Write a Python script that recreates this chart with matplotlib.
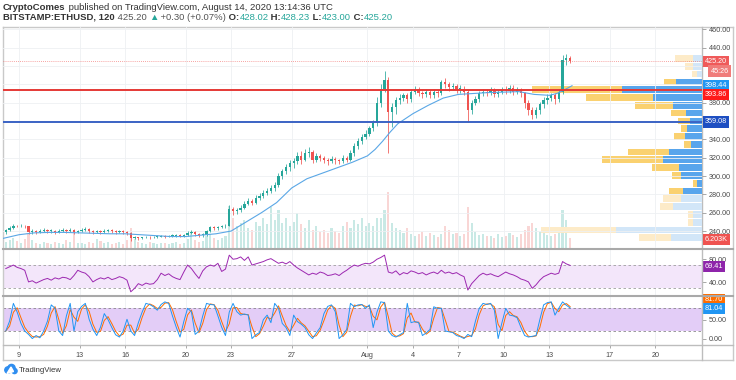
import numpy as np
import pandas as pd
import matplotlib
matplotlib.use("Agg")
import matplotlib.pyplot as plt
import matplotlib.transforms as mtrans
from matplotlib.lines import Line2D
from matplotlib.patches import Circle, Polygon

plt.rcParams['font.family'] = ['Liberation Sans', 'DejaVu Sans']

W, H = 736, 380

# BITSTAMP:ETHUSD, 6h candles; x axis = day of July (Aug 1 = 32)
first_day = 8.0
first_open = 239
closes = [241, 243, 246, 245, 246, 245, 239, 240,
          239, 240, 241, 240, 240, 239, 240, 241,
          240, 241, 239, 240, 241, 242, 240, 239,
          240, 239, 240, 241, 240, 239, 240, 239,
          238, 232, 233, 232, 233, 234, 233, 234,
          234, 235, 234, 235, 235, 236, 235, 236,
          238, 239, 237, 236, 236, 240, 244, 243,
          244, 245, 246, 264, 262, 263, 265, 270,
          273, 271, 276, 278, 282, 284, 287, 290,
          300, 305, 310, 314, 316, 322, 318, 325,
          326, 318, 322, 320, 318, 316, 319, 317,
          316, 320, 318, 325, 333, 338, 343, 346,
          352, 358, 380, 395, 405, 370, 375, 383,
          385, 388, 384, 392, 395, 390, 389, 392,
          388, 392, 390, 402, 400, 397, 398, 395,
          395, 392, 372, 380, 384, 390, 392, 391,
          393, 389, 392, 394, 393, 396, 392, 394,
          390, 380, 372, 366, 372, 378, 383, 385,
          388, 384, 392, 427, 429, 425.2]
highs = [242, 245, 248, 247, 248, 247, 246, 242,
         241, 242, 243, 242, 242, 241, 242, 243,
         242, 243, 242, 241, 243, 244, 243, 241,
         241, 241, 242, 242, 242, 241, 241, 241,
         240, 239, 235, 234, 234, 235, 235, 235,
         236, 236, 236, 236, 237, 237, 237, 237,
         240, 241, 240, 238, 238, 241, 245, 245,
         246, 247, 248, 268, 266, 265, 268, 273,
         276, 275, 279, 281, 285, 287, 290, 293,
         303, 308, 313, 317, 320, 326, 327, 330,
         332, 328, 325, 324, 322, 320, 322, 321,
         319, 323, 322, 328, 336, 341, 346, 350,
         355, 361, 386, 400, 415, 408, 380, 386,
         389, 391, 390, 395, 398, 397, 393, 395,
         394, 395, 394, 405, 407, 403, 401, 400,
         399, 398, 394, 383, 387, 393, 395, 395,
         397, 396, 394, 397, 398, 399, 399, 397,
         396, 392, 383, 375, 375, 381, 386, 389,
         391, 391, 395, 432, 433, 431]
lows = [237, 240, 242, 244, 244, 243, 237, 237,
        237, 238, 239, 238, 238, 237, 238, 239,
        238, 239, 237, 238, 239, 240, 238, 237,
        238, 237, 238, 239, 238, 237, 238, 237,
        236, 229, 231, 230, 231, 232, 231, 232,
        232, 233, 232, 233, 233, 234, 233, 234,
        235, 237, 235, 234, 234, 235, 239, 241,
        241, 243, 243, 245, 258, 259, 261, 264,
        268, 268, 270, 274, 276, 279, 281, 284,
        288, 297, 302, 306, 309, 313, 313, 316,
        321, 314, 315, 316, 314, 312, 314, 313,
        313, 314, 315, 316, 322, 330, 335, 340,
        344, 349, 355, 375, 392, 325, 353, 368,
        379, 382, 380, 381, 389, 387, 385, 386,
        385, 385, 386, 388, 396, 393, 394, 391,
        391, 388, 359, 368, 377, 381, 387, 387,
        388, 386, 386, 389, 389, 390, 388, 389,
        386, 374, 366, 362, 363, 368, 374, 379,
        382, 378, 381, 389, 421, 423]
volume = [6, 8, 10, 7, 5, 9, 15, 8, 5, 4,
          6, 5, 4, 6, 5, 4, 8, 6, 17, 5,
          5, 4, 6, 5, 9, 7, 5, 6, 4, 5,
          6, 4, 8, 20, 9, 6, 5, 4, 6, 5,
          4, 5, 5, 4, 5, 6, 4, 5, 9, 15,
          8, 6, 7, 12, 14, 10, 8, 10, 12, 42,
          30, 22, 25, 28, 20, 18, 26, 22, 30, 24,
          41, 28, 38, 25, 30, 22, 26, 35, 24, 20,
          28, 18, 22, 16, 18, 15, 20, 17, 15, 22,
          26, 20, 28, 24, 30, 22, 25, 22, 30, 30,
          38, 56, 25, 20, 18, 15, 20, 14, 12, 14,
          16, 12, 15, 13, 11, 14, 22, 18, 14, 15,
          12, 14, 41, 25, 16, 13, 14, 12, 12, 10,
          14, 11, 12, 15, 13, 11, 14, 18, 22, 25,
          20, 16, 15, 13, 12, 14, 16, 38, 28, 10]

ma_days = [7.95, 9, 10, 11, 12, 13, 14, 15, 16, 17, 18, 19, 20, 21, 22, 23, 24, 25,
           26, 27, 28, 29, 30, 31, 32, 32.5, 33, 33.5, 34, 35, 36, 37, 38, 39, 40,
           41, 42, 43, 44, 44.5, 45, 45.5]
ma_vals = [232, 236, 238, 238.5, 238.5, 238, 237.5, 237, 237, 236, 235, 234, 234, 235.5,
           237, 240, 250, 260, 271, 287, 297, 303, 309, 315, 322, 329, 338, 348, 357,
           368, 377, 385, 389, 390, 391, 391.5, 392, 389, 388, 390, 394, 398.44]

rsi = [64, 67, 70, 66, 64, 61, 41, 43, 39, 42,
       45, 47, 44, 48, 46, 49, 48, 45, 52, 61,
       58, 56, 50, 41, 45, 48, 46, 49, 45, 47,
       50, 48, 44, 24, 30, 38, 35, 39, 37, 38,
       45, 56, 52, 55, 50, 47, 45, 58, 70, 64,
       55, 47, 60, 67, 70, 68, 73, 59, 63, 87,
       80, 81, 84, 78, 84, 70, 72, 74, 76, 79,
       81, 77, 73, 75, 72, 76, 70, 65, 61, 57,
       53, 56, 54, 58, 56, 52, 53, 55, 52, 57,
       61, 66, 70, 68, 71, 73, 72, 75, 80, 83,
       87, 58, 56, 60, 53, 57, 55, 60, 58, 55,
       57, 53, 56, 58, 55, 61, 56, 58, 55, 57,
       53, 50, 27, 38, 45, 52, 56, 53, 55, 52,
       50, 54, 58, 55, 53, 50, 46, 44, 41, 30,
       36, 44, 50, 53, 56, 54, 56, 76, 72, 69.41]
stoch_k = [20, 46, 93, 70, 40, 20, 11, 0, 8, 2,
           20, 46, 89, 80, 20, 8, 60, 93, 20, 71,
           85, 93, 51, 25, 8, 30, 66, 50, 29, 10,
           4, 20, 51, 20, 8, 42, 70, 93, 90, 84,
           75, 90, 97, 93, 60, 30, 4, 45, 80, 71,
           11, 20, 60, 93, 90, 89, 60, 30, 8, 70,
           93, 71, 62, 65, 62, 0, 10, 16, 50, 62,
           42, 93, 80, 40, 29, 8, 62, 45, 38, 29,
           10, 0, 15, 29, 66, 85, 89, 71, 0, 10,
           24, 93, 84, 89, 90, 80, 89, 29, 70, 97,
           95, 20, 8, 4, 10, 16, 93, 42, 45, 42,
           8, 15, 24, 84, 80, 80, 20, 18, 16, 8,
           5, 0, 11, 5, 46, 80, 93, 90, 93, 75,
           0, 42, 80, 62, 60, 55, 30, 8, 4, 6,
           8, 50, 89, 95, 97, 62, 80, 97, 88, 81.04]

# visible range volume profile, 24 price rows from bottom to top
vp_low, vp_row = 228.4, 8.5
vp_up = [31, 86, 9, 9, 29, 21, 19, 5, 21, 23, 39, 33, 11, 17, 15, 12, 16, 29, 49, 80, 26, 5, 9, 9]
vp_down = [32, 75, 5, 5, 13, 18, 14, 4, 9, 27, 61, 41, 7, 11, 6, 12, 15, 38, 67, 90, 12, 5, 8, 18]
vp_value_area = (6, 20)

resistance = 393.86
support = 359.08
ma_last = 398.44
last_close = 425.20
rsi_last = 69.41
stoch_k_last, stoch_d_last = 81.04, 81.70

date_ticks = [9, 13, 16, 20, 23, 27, 32, 35, 38, 41, 44, 48, 51]
date_labels = ['9', '13', '16', '20', '23', '27', 'Aug', '4', '7', '10', '13', '17', '20']
price_ticks = list(range(240, 461, 20))
hidden_prices = [360, 400, 420]  # covered by the price tags on the scale

GREEN, RED = '#26a69a', '#ef5350'
GRID = '#eef0f3'
TXT = '#4a4a4a'


def rect(x0, y0, x1, y1):
    return [x0 / W, 1 - y1 / H, (x1 - x0) / W, (y1 - y0) / H]


def fline(x0, y0, x1, y1, color='#c9c9c9', lw=1.0):
    fig.add_artist(Line2D([x0 / W, x1 / W], [1 - y0 / H, 1 - y1 / H],
                          transform=fig.transFigure, color=color, lw=lw))


fig = plt.figure(figsize=(W / 100, H / 100), dpi=100)
xlim = (7.94, 54.08)
ylim = (221.5, 462.5)

n = len(closes)
c = np.array(closes, float)
o = np.r_[first_open, c[:-1]]
t = first_day + 0.125 + 0.25 * np.arange(n)
up = c >= o
col = np.where(up, GREEN, RED)

# volume bars (bottom layer)
vax = fig.add_axes(rect(3, 27, 702, 248), zorder=1)
vax.bar(t, volume, width=0.14, color=np.where(up, '#c9e9e5', '#f9d6d5'), linewidth=0)
vax.set_xlim(xlim)
vax.set_ylim(0, 221)
vax.axis('off')

# volume profile on the right
pax = fig.add_axes(rect(3, 27, 702, 248), zorder=2)
idx = np.arange(len(vp_up))
rows = vp_low + vp_row * (idx + 0.5)
inside = (idx >= vp_value_area[0]) & (idx <= vp_value_area[1])
pax.barh(rows, vp_up, height=vp_row * 0.86, color=np.where(inside, '#58a5ec', '#d2e6f8'), linewidth=0)
pax.barh(rows, vp_down, left=vp_up, height=vp_row * 0.86,
         color=np.where(inside, '#fad170', '#fdebc8'), linewidth=0)
total = np.add(vp_up, vp_down)
pax.set_xlim(total.max() / 0.243, 0)
pax.set_ylim(ylim)
pax.axis('off')

# price panel
ax = fig.add_axes(rect(3, 27, 702, 248), zorder=3)
ax.patch.set_visible(False)
ax.vlines(t, lows, highs, colors=col, lw=0.55)
ax.bar(t, np.maximum(np.abs(c - o), 0.6), bottom=np.minimum(o, c), width=0.15, color=col, linewidth=0)
ax.plot(ma_days, ma_vals, color='#5aa7e6', lw=0.8)
ax.axhline(resistance, color='#e53935', lw=1.4)
ax.axhline(support, color='#3b63c4', lw=1.4)
ax.axhline(last_close, color=RED, lw=0.6, ls=(0, (1, 1.5)), alpha=0.7)
ax.set_ylim(ylim)
ax.set_yticks(price_ticks)
ax.set_yticklabels(['' if p in hidden_prices else '%.2f' % p for p in price_ticks])
ax.grid(True, axis='y', color=GRID, lw=0.6)

# RSI panel
rax = fig.add_axes(rect(3, 249, 702, 295))
rax.axhspan(30, 70, color='#f3e6fa', lw=0)
rax.axhline(70, color='#9e9e9e', lw=0.6, ls=(0, (3, 3)))
rax.axhline(30, color='#9e9e9e', lw=0.6, ls=(0, (3, 3)))
rax.plot(t, rsi, color='#9c27b0', lw=0.7)
rax.set_ylim(18.5, 97.6)
rax.set_yticks([40, 80])
rax.set_yticklabels(['40.00', '80.00'])

# Stochastic panel
sax = fig.add_axes(rect(3, 296, 702, 345))
sax.axhspan(20, 80, color='#e3cdf7', lw=0)
sax.axhline(80, color='#8a8a8a', lw=0.6, ls=(0, (3, 3)))
sax.axhline(20, color='#8a8a8a', lw=0.6, ls=(0, (3, 3)))
k = pd.Series(stoch_k)
sax.plot(t, k.rolling(2, min_periods=1).mean(), color='#ff6d00', lw=0.7)
sax.plot(t, k, color='#2196f3', lw=0.7)
sax.set_ylim(-17, 112.5)
sax.set_yticks([0, 50])
sax.set_yticklabels(['0.00', '50.00'])

for a in (ax, rax, sax):
    a.set_xlim(xlim)
    a.set_xticks(date_ticks)
    a.set_axisbelow(True)
    a.grid(True, axis='x', color=GRID, lw=0.6)
    for s in a.spines.values():
        s.set_visible(False)
    a.tick_params(axis='x', length=0, labelbottom=False)
    a.yaxis.tick_right()
    a.tick_params(axis='y', length=3, width=0.6, color='#9a9a9a', labelsize=5.2,
                  labelcolor=TXT, pad=2)
sax.tick_params(axis='x', labelbottom=True, length=2, width=0.6, color='#9a9a9a',
                labelsize=5.2, labelcolor=TXT, pad=3)
sax.set_xticklabels(date_labels)


def tag(a, y, s, bg, dx=0.004):
    tr = mtrans.blended_transform_factory(a.transAxes, a.transData)
    a.text(1 + dx, y, s, transform=tr, fontsize=5.2, color='white', va='center', ha='left',
           bbox=dict(boxstyle='square,pad=0.3', fc=bg, ec='none'), clip_on=False, zorder=10)


tag(ax, last_close, '%.2f' % last_close, '#ef5a5a')
tag(ax, 414.5, '45:26', '#f07c7a', dx=0.012)
tag(ax, ma_last, '%.2f' % ma_last, '#2196f3')
tag(ax, 388.6, '%.2f' % resistance, '#ff1a1a')
tag(ax, support, '%.2f' % support, '#1e4fc2')
tag(ax, 231.0, '6.203K', '#ef5350')
tag(rax, 67.0, '%.2f' % rsi_last, '#8e24aa')
tag(sax, 104, '%.2f' % stoch_d_last, '#ff6d00')
tag(sax, 79, '%.2f' % stoch_k_last, '#2196f3')

# frame and separators
fline(3, 27, 733, 27)
fline(3, 27, 3, 360)
fline(733, 27, 733, 360)
fline(3, 360, 733, 360)
fline(702, 27, 702, 360, color='#bdbdbd')
fline(3, 248.5, 733, 248.5, color='#a9a9a9', lw=1.5)
fline(3, 295.5, 733, 295.5, color='#a9a9a9', lw=1.5)
fline(3, 345, 733, 345, color='#bdbdbd')

# header
renderer = fig.canvas.get_renderer()


def write(x, y, parts, size=6.8):
    for s, color, weight in parts:
        tx = fig.text(x / W, 1 - y / H, s, fontsize=size, color=color, fontweight=weight,
                      va='center', ha='left')
        x += tx.get_window_extent(renderer).width


write(3, 7, [('CryptoComes', '#333333', 'bold'),
             (' published on TradingView.com, August 14, 2020 13:14:36 UTC', '#333333', 'normal')])
write(3, 17, [('BITSTAMP:ETHUSD, 120', '#333333', 'bold'),
              (' 425.20 ', '#555555', 'normal'),
              ('▲', GREEN, 'normal'),
              (' +0.30 (+0.07%)', '#555555', 'normal'),
              (' O:', '#333333', 'bold'), ('428.02', GREEN, 'normal'),
              (' H:', '#333333', 'bold'), ('428.23', GREEN, 'normal'),
              (' L:', '#333333', 'bold'), ('423.00', GREEN, 'normal'),
              (' C:', '#333333', 'bold'), ('425.20', GREEN, 'normal')])

# footer logo
ident = mtrans.IdentityTransform()
for cx, cy, r in [(8, H - 370, 3.2), (11.5, H - 368, 3.6), (14.5, H - 371, 2.6)]:
    fig.add_artist(Circle((cx, cy), r, transform=ident, color='#2f8ef0'))
fig.add_artist(Polygon([(7, H - 373.5), (11, H - 367), (13.5, H - 371.5)], closed=True,
                       transform=ident, color='white'))
fig.text(19 / W, 1 - 370 / H, 'TradingView', fontsize=5.6, color='#333333', va='center', ha='left')

fig.savefig('out.png', dpi=100)
